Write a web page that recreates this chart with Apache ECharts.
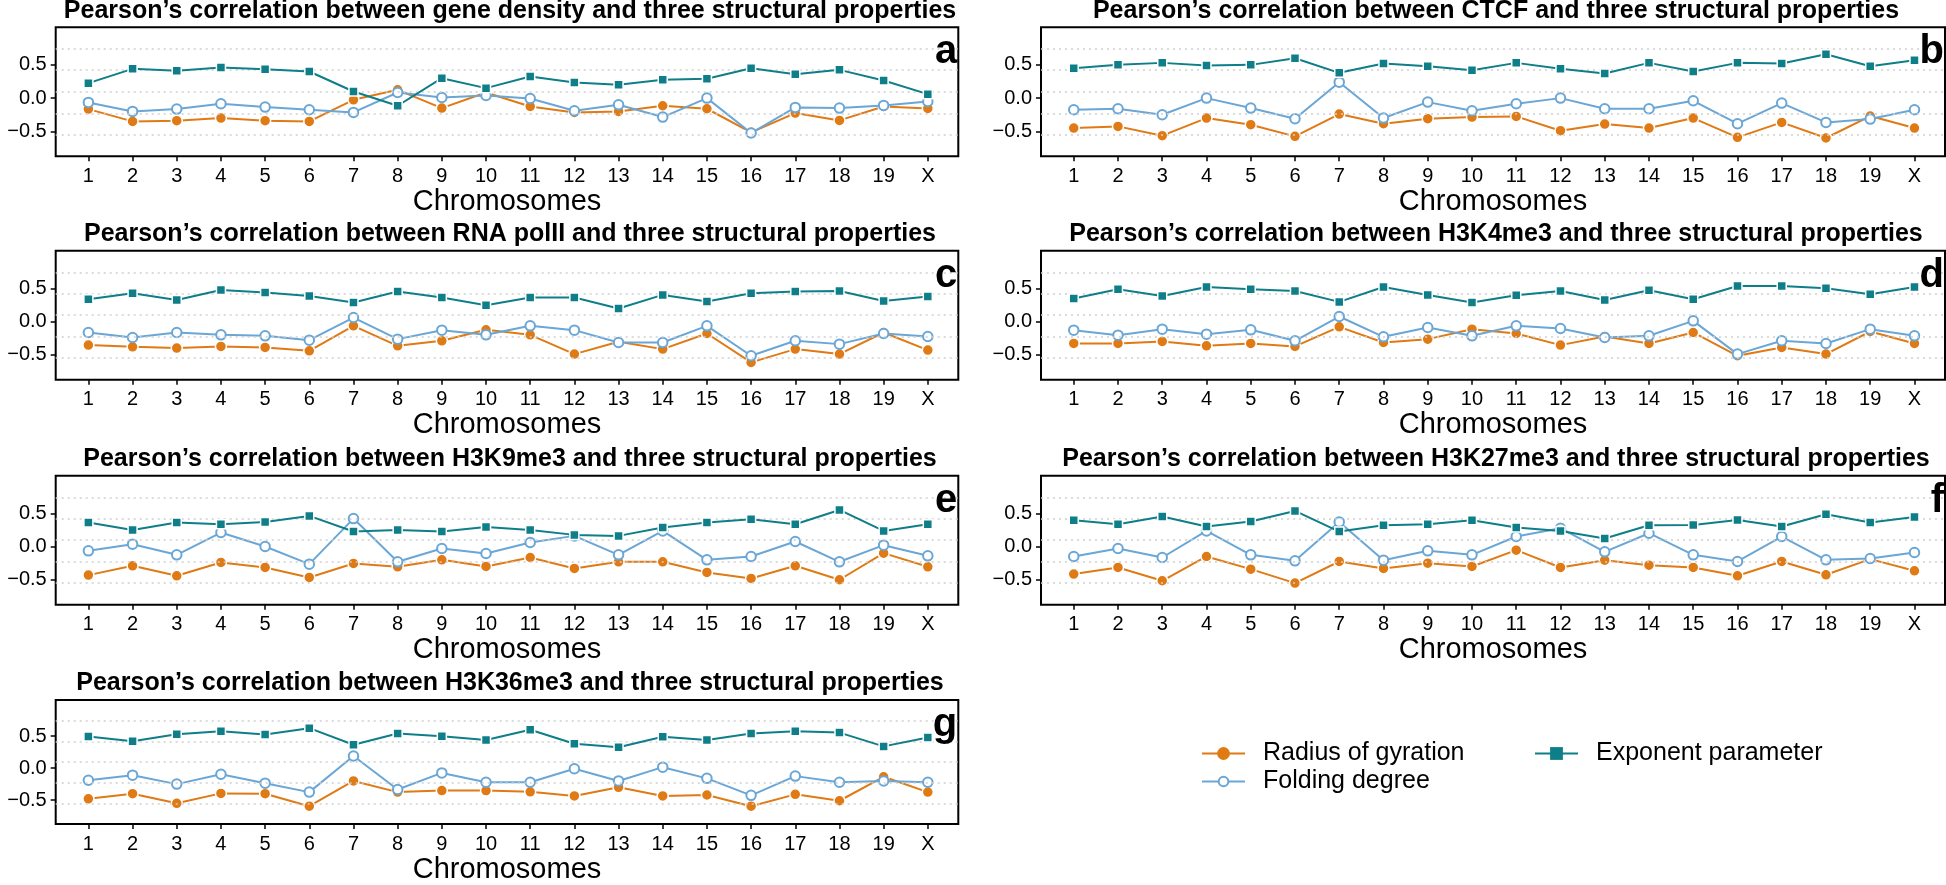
<!DOCTYPE html>
<html>
<head>
<meta charset="utf-8">
<script src="https://cdn.jsdelivr.net/npm/echarts@6/dist/echarts.min.js"></script>
<style>
html,body{margin:0;padding:0;background:#fff;}
#chart{width:1946px;height:885px;}
</style>
</head>
<body>
<div id="chart"></div>
<script>
// ---------- data ----------
const categories = ['1','2','3','4','5','6','7','8','9','10','11','12','13','14','15','16','17','18','19','X'];
const seriesNames = ['Radius of gyration', 'Folding degree', 'Exponent parameter'];
const panelLetters = ['a','b','c','d','e','f','g'];
const panelTitles = [
  'Pearson\u2019s correlation between gene density and three structural properties',
  'Pearson\u2019s correlation between CTCF and three structural properties',
  'Pearson\u2019s correlation between RNA polII and three structural properties',
  'Pearson\u2019s correlation between H3K4me3 and three structural properties',
  'Pearson\u2019s correlation between H3K9me3 and three structural properties',
  'Pearson\u2019s correlation between H3K27me3 and three structural properties',
  'Pearson\u2019s correlation between H3K36me3 and three structural properties'
];
const xAxisName = 'Chromosomes';
const yTicks = [-0.5, 0, 0.5];
const gridValues = [0.74, 0.42, 0.10, -0.225, -0.55];

const geneRadius   = [-0.165,-0.35,-0.34,-0.30,-0.34,-0.35,-0.025,0.125,-0.15,0.085,-0.125,-0.215,-0.20,-0.115,-0.16,-0.515,-0.225,-0.335,-0.125,-0.155];
const geneFolding  = [-0.065,-0.2,-0.165,-0.085,-0.135,-0.175,-0.215,0.085,0.01,0.04,-0.005,-0.19,-0.10,-0.285,0.0,-0.525,-0.14,-0.15,-0.11,-0.05];
const geneExponent = [0.225,0.44,0.41,0.46,0.435,0.40,0.10,-0.115,0.30,0.15,0.325,0.235,0.20,0.275,0.29,0.45,0.36,0.425,0.265,0.06];

const ctcfRadius   = [-0.45,-0.425,-0.565,-0.30,-0.40,-0.575,-0.24,-0.385,-0.31,-0.285,-0.275,-0.49,-0.39,-0.45,-0.30,-0.59,-0.365,-0.60,-0.27,-0.45];
const ctcfFolding  = [-0.175,-0.16,-0.25,0.0,-0.15,-0.31,0.24,-0.30,-0.06,-0.19,-0.085,0.0,-0.16,-0.16,-0.04,-0.385,-0.075,-0.365,-0.315,-0.175];
const ctcfExponent = [0.45,0.5,0.53,0.49,0.5,0.6,0.38,0.52,0.48,0.42,0.53,0.44,0.37,0.53,0.4,0.53,0.52,0.66,0.48,0.57];

const polRadius   = [-0.355,-0.38,-0.40,-0.375,-0.39,-0.44,-0.065,-0.365,-0.29,-0.125,-0.20,-0.49,-0.305,-0.415,-0.18,-0.615,-0.415,-0.49,-0.165,-0.43];
const polFolding  = [-0.165,-0.24,-0.165,-0.20,-0.215,-0.28,0.06,-0.265,-0.13,-0.20,-0.065,-0.13,-0.315,-0.315,-0.065,-0.515,-0.29,-0.34,-0.18,-0.225];
const polExponent = [0.335,0.425,0.325,0.475,0.435,0.385,0.285,0.45,0.36,0.245,0.36,0.36,0.195,0.40,0.30,0.425,0.45,0.46,0.31,0.375];

const k4Radius   = [-0.33,-0.33,-0.30,-0.365,-0.33,-0.375,-0.08,-0.315,-0.265,-0.115,-0.18,-0.355,-0.225,-0.33,-0.165,-0.515,-0.39,-0.49,-0.15,-0.33];
const k4Folding  = [-0.13,-0.205,-0.115,-0.19,-0.125,-0.29,0.075,-0.23,-0.09,-0.215,-0.065,-0.105,-0.24,-0.215,0.01,-0.49,-0.29,-0.33,-0.115,-0.215];
const k4Exponent = [0.345,0.485,0.385,0.52,0.485,0.46,0.295,0.52,0.40,0.285,0.395,0.46,0.325,0.47,0.335,0.535,0.535,0.50,0.41,0.52];

const k9Radius   = [-0.43,-0.29,-0.44,-0.24,-0.315,-0.465,-0.255,-0.305,-0.20,-0.30,-0.165,-0.33,-0.23,-0.23,-0.39,-0.48,-0.29,-0.50,-0.10,-0.305];
const k9Folding  = [-0.065,0.035,-0.125,0.21,0.0,-0.265,0.42,-0.23,-0.03,-0.105,0.06,0.16,-0.125,0.235,-0.20,-0.15,0.075,-0.23,0.02,-0.14];
const k9Exponent = [0.36,0.25,0.36,0.335,0.37,0.46,0.225,0.25,0.225,0.295,0.25,0.175,0.16,0.285,0.36,0.41,0.335,0.55,0.235,0.335];

const k27Radius   = [-0.415,-0.315,-0.515,-0.15,-0.34,-0.55,-0.225,-0.33,-0.25,-0.30,-0.055,-0.315,-0.205,-0.28,-0.315,-0.44,-0.225,-0.425,-0.19,-0.365];
const k27Folding  = [-0.15,-0.03,-0.165,0.235,-0.125,-0.215,0.37,-0.205,-0.065,-0.125,0.15,0.275,-0.08,0.20,-0.125,-0.225,0.15,-0.20,-0.18,-0.09];
const k27Exponent = [0.395,0.335,0.45,0.30,0.375,0.535,0.225,0.32,0.335,0.395,0.285,0.235,0.12,0.32,0.325,0.40,0.30,0.485,0.36,0.445];

const k36Radius   = [-0.48,-0.40,-0.55,-0.395,-0.40,-0.595,-0.20,-0.375,-0.35,-0.35,-0.37,-0.435,-0.30,-0.435,-0.42,-0.595,-0.41,-0.51,-0.135,-0.375];
const k36Folding  = [-0.19,-0.11,-0.25,-0.095,-0.235,-0.375,0.19,-0.335,-0.075,-0.22,-0.22,-0.01,-0.20,0.015,-0.16,-0.425,-0.125,-0.22,-0.20,-0.22];
const k36Exponent = [0.495,0.42,0.53,0.575,0.525,0.625,0.365,0.54,0.50,0.44,0.60,0.38,0.325,0.49,0.44,0.54,0.575,0.555,0.34,0.48];

const panelData = [
  [geneRadius, geneFolding, geneExponent],
  [ctcfRadius, ctcfFolding, ctcfExponent],
  [polRadius, polFolding, polExponent],
  [k4Radius, k4Folding, k4Exponent],
  [k9Radius, k9Folding, k9Exponent],
  [k27Radius, k27Folding, k27Exponent],
  [k36Radius, k36Folding, k36Exponent]
];

// ---------- style / layout ----------
const FONT = '"Liberation Sans", Arial, Helvetica, sans-serif';
const COLORS = ['#DF7A14', '#6AA6D6', '#0E7E89'];
const colLeft = [55.7, 1041];
const colWidth = [902.6, 904];
const rowTop = [27.3, 250.7, 475.7, 700];
const boxH = 129;

const chart = echarts.init(document.getElementById('chart'), null, {renderer: 'canvas'});

const grids = [], xAxes = [], yAxes = [], series = [], graphics = [];

panelData.forEach((sets, p) => {
  const col = p % 2, row = Math.floor(p / 2);
  const left = colLeft[col], top = rowTop[row], width = colWidth[col];
  grids.push({left: left, top: top, width: width, height: boxH, show: true,
    borderColor: '#000', borderWidth: 2, backgroundColor: 'transparent', containLabel: false});
  xAxes.push({
    type: 'value', gridIndex: p, min: 0.26, max: 20.69, position: 'bottom',
    name: xAxisName, nameLocation: 'middle', nameGap: 29,
    nameTextStyle: {fontFamily: FONT, fontSize: 29, color: '#000'},
    axisLine: {show: false, onZero: false},
    splitLine: {show: false},
    axisTick: {show: true, customValues: categories.map((c, i) => i + 1), length: 5, lineStyle: {color: '#000', width: 1.5}},
    axisLabel: {customValues: categories.map((c, i) => i + 1), margin: 10, fontFamily: FONT, fontSize: 20, color: '#000',
      formatter: v => categories[Math.round(v) - 1]}
  });
  yAxes.push({
    type: 'value', gridIndex: p, min: -0.875, max: 1.065, position: 'left',
    axisLine: {show: false, onZero: false},
    splitLine: {show: false},
    axisTick: {show: true, customValues: yTicks, length: 5, lineStyle: {color: '#000', width: 1.5}},
    axisLabel: {customValues: yTicks, margin: 9, fontFamily: FONT, fontSize: 20, color: '#000',
      formatter: v => (v < 0 ? '\u2212' : '') + Math.abs(v).toFixed(1)}
  });
  // dotted background grid lines
  series.push({
    type: 'line', name: '_grid' + p, xAxisIndex: p, yAxisIndex: p, data: [], z: 1, silent: true,
    markLine: {silent: true, symbol: ['none', 'none'], label: {show: false},
      lineStyle: {type: [2, 4], color: '#cfcfcf', width: 1.6},
      data: gridValues.map(v => ({yAxis: v}))}
  });
  sets.forEach((vals, s) => {
    const isFold = s === 1;
    series.push({
      type: 'line', name: seriesNames[s], xAxisIndex: p, yAxisIndex: p, z: 3 + s,
      data: vals.map((v, i) => [i + 1, v]),
      symbol: s === 0 ? 'circle' : (s === 1 ? 'emptyCircle' : 'rect'),
      symbolSize: s === 0 ? 11 : (s === 1 ? 9.5 : 9),
      color: COLORS[s],
      lineStyle: {color: COLORS[s], width: 2},
      itemStyle: isFold ? {color: COLORS[s], borderColor: COLORS[s], borderWidth: 2}
                        : {color: COLORS[s], borderColor: '#fff', borderWidth: 1.5},
      emphasis: {disabled: true},
      animation: false
    });
  });
  graphics.push({
    type: 'text', x: left + width / 2 + 3, y: top - 16.5, z: 10,
    style: {text: panelTitles[p], x: 0, y: 0, align: 'center', verticalAlign: 'middle',
      font: 'bold 25px ' + FONT, fill: '#000'}
  });
  graphics.push({
    type: 'text', x: left + width - 1, y: top + 45, z: 10,
    style: {text: panelLetters[p], align: 'right', verticalAlign: 'bottom',
      font: 'bold 40px ' + FONT, fill: '#000'}
  });
});

const legendText = {fontFamily: FONT, fontSize: 25, color: '#000', padding: [0, 0, 0, 13]};
const legendBase = {orient: 'vertical', itemWidth: 43, itemHeight: 16, itemGap: 3, textStyle: legendText, selectedMode: false};

chart.setOption({
  animation: false,
  backgroundColor: '#fff',
  grid: grids,
  xAxis: xAxes,
  yAxis: yAxes,
  series: series,
  legend: [
    Object.assign({}, legendBase, {data: [seriesNames[0]], left: 1196, top: 736, itemStyle: {borderWidth: 0}}),
    Object.assign({}, legendBase, {data: [seriesNames[1]], left: 1196, top: 764, itemHeight: 12}),
    Object.assign({}, legendBase, {data: [seriesNames[2]], left: 1529, top: 736, itemStyle: {borderWidth: 0}})
  ],
  graphic: graphics
});
</script>
</body>
</html>
